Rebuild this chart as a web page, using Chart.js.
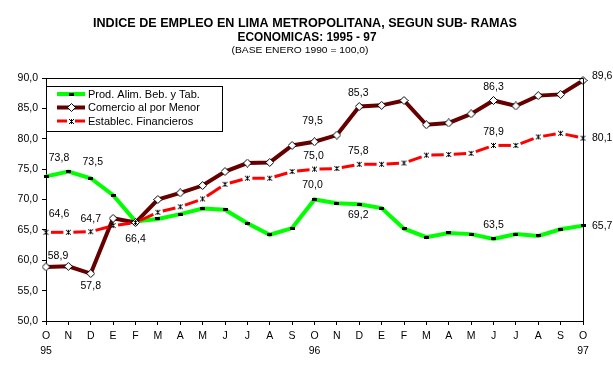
<!DOCTYPE html>
<html><head><meta charset="utf-8">
<script src="https://cdn.jsdelivr.net/npm/chart.js@4.4.0/dist/chart.umd.min.js"></script>
<style>html,body{margin:0;padding:0;background:#fff;}#wrap{width:613px;height:367px;position:relative;}</style>
</head><body><div id="wrap"><canvas id="c" width="613" height="367"></canvas></div>
<script>
const months = ['O','N','D','E','F','M','A','M','J','J','A','S','O','N','D','E','F','M','A','M','J','J','A','S','O'];
const years = ['95','','','','','','','','','','','','96','','','','','','','','','','','','97'];
const alimentos = [73.8,74.6,73.5,70.7,66.4,66.8,67.6,68.5,68.3,66.1,64.2,65.3,70.0,69.4,69.2,68.6,65.2,63.8,64.5,64.3,63.5,64.3,64.0,65.1,65.7];
const comercio = [58.9,59.0,57.8,66.9,66.2,70.0,71.1,72.3,74.6,76.0,76.1,78.9,79.5,80.6,85.3,85.5,86.3,82.3,82.6,84.1,86.3,85.4,87.1,87.3,89.6];
const financieros = [64.6,64.6,64.7,65.7,66.2,67.9,68.8,70.1,72.5,73.5,73.5,74.6,75.0,75.1,75.8,75.8,76.0,77.3,77.4,77.6,78.9,78.9,80.3,80.9,80.1];
const seriesNames = ['Prod. Alim. Beb. y Tab.','Comercio al por Menor','Establec. Financieros'];
const yTicks = [50,55,60,65,70,75,80,85,90];
const titleLines = ['INDICE DE EMPLEO EN LIMA METROPOLITANA, SEGUN SUB- RAMAS','ECONOMICAS: 1995 - 97'];
const subtitle = '(BASE ENERO 1990 = 100,0)';

// label placement (style): [index, dx, dy, align]
const labelSpecs = [
  [[0,13,-18,'center'],[2,2,-16,'center'],[4,0,18,'center'],[12,-2,-14,'center'],[14,-1,11,'center'],[20,0,-14,'center'],[24,9,0,'left']],
  [[0,12,-11,'center'],[2,0,12,'center'],[12,-2,-21,'center'],[14,-1,-13,'center'],[20,0,-13,'center'],[24,9,-4,'left']],
  [[0,13,-18,'center'],[2,0,-13,'center'],[12,-1,-13,'center'],[14,-1,-13,'center'],[20,0,-13,'center'],[24,9,0,'left']]
];

function mk(w,h,draw){const c=document.createElement('canvas');c.width=w;c.height=h;draw(c.getContext('2d'));return c;}
const mGreen = mk(5,3,g=>{g.fillStyle='#000';g.fillRect(0,0,5,3);});
const mDiamond = mk(9,9,g=>{g.beginPath();g.moveTo(4.5,0.5);g.lineTo(8.5,4.5);g.lineTo(4.5,8.5);g.lineTo(0.5,4.5);g.closePath();g.fillStyle='#fff';g.fill();g.strokeStyle='#000';g.lineWidth=1;g.stroke();});
const mStar = mk(7,7,g=>{g.fillStyle='#000';
  const px=[[1,1],[5,1],[3,1],[2,2],[3,2],[4,2],[3,3],[2,4],[3,4],[4,4],[1,5],[3,5],[5,5]];
  px.forEach(([x,y])=>g.fillRect(x,y,1,1));});

const fmt = v => v.toFixed(1).replace('.', ',');
const FONT = '"Liberation Sans", Arial, sans-serif';

function drawScaled(ctx, text, x, y, font, targetW){
  ctx.font = font;
  const w = ctx.measureText(text).width;
  const sx = targetW ? targetW / w : 1;
  ctx.save(); ctx.translate(x, y); ctx.scale(sx, 1);
  ctx.textAlign = 'center'; ctx.textBaseline = 'alphabetic'; ctx.fillStyle = '#000';
  ctx.fillText(text, 0, 0); ctx.restore();
}

const deco = {
  id: 'deco',
  afterDraw(chart){
    const ctx = chart.ctx, a = chart.chartArea;
    ctx.save();
    ctx.strokeStyle = '#000'; ctx.lineWidth = 1;
    ctx.beginPath();
    ctx.moveTo(Math.round(a.left)+0.5, Math.round(a.top)+0.5);
    ctx.lineTo(Math.round(a.right)+0.5, Math.round(a.top)+0.5);
    ctx.lineTo(Math.round(a.right)+0.5, Math.round(a.bottom)+0.5);
    ctx.stroke();
    drawScaled(ctx, titleLines[0], 305, 27, 'bold 13.5px '+FONT, 424);
    drawScaled(ctx, titleLines[1], 307, 41, 'bold 13.5px '+FONT, 139);
    drawScaled(ctx, subtitle, 300, 53, '9px '+FONT, 137);
    ctx.font = '10.5px ' + FONT; ctx.fillStyle = '#000'; ctx.textBaseline = 'middle';
    chart.data.datasets.forEach((ds, di) => {
      const meta = chart.getDatasetMeta(di);
      labelSpecs[di].forEach(([i, dx, dy, al]) => {
        const p = meta.data[i];
        ctx.textAlign = al;
        ctx.fillText(fmt(ds.data[i]), p.x + dx, p.y + dy);
      });
    });
    const L = {x: 46.5, y: 86.5, w: 176, h: 45};
    ctx.fillStyle = '#fff'; ctx.fillRect(L.x, L.y, L.w, L.h);
    ctx.strokeStyle = '#000'; ctx.lineWidth = 1; ctx.strokeRect(L.x, L.y, L.w, L.h);
    const rows = [94, 107.5, 121];
    chart.data.datasets.forEach((ds, di) => {
      const y = rows[di];
      ctx.save();
      ctx.strokeStyle = ds.borderColor; ctx.lineWidth = ds.borderWidth;
      ctx.beginPath();
      if (di === 2) { ctx.moveTo(57, y); ctx.lineTo(67, y); ctx.moveTo(75, y); ctx.lineTo(85, y); }
      else { ctx.moveTo(57, y); ctx.lineTo(85, y); }
      ctx.stroke();
      ctx.restore();
      const img = ds.pointStyle;
      ctx.drawImage(img, Math.round(71 - img.width/2), Math.round(y - img.height/2));
      ctx.fillStyle = '#000'; ctx.font = '11px ' + FONT; ctx.textAlign = 'left'; ctx.textBaseline = 'middle';
      ctx.fillText(ds.label, 88, y + 0.5);
    });
    ctx.restore();
  }
};

const segLen = c => Math.hypot(c.p1.x - c.p0.x, c.p1.y - c.p0.y);

new Chart(document.getElementById('c'), {
  type: 'line',
  data: {
    labels: months.map((m, i) => [m, years[i]]),
    datasets: [
      {label: seriesNames[0], data: alimentos, borderColor: '#00ff00', backgroundColor: '#00ff00', borderWidth: 4, pointStyle: mGreen, pointRadius: 3, tension: 0, clip: false, order: 3},
      {label: seriesNames[1], data: comercio, borderColor: '#660000', backgroundColor: '#660000', borderWidth: 4, pointStyle: mDiamond, pointRadius: 4, tension: 0, clip: false, order: 2},
      {label: seriesNames[2], data: financieros, borderColor: '#ff0000', backgroundColor: '#ff0000', borderWidth: 3, pointStyle: mStar, pointRadius: 4, tension: 0, clip: false, order: 1,
       segment: {borderDash: c => { const l = segLen(c); return [Math.max(l - 10, 1), 10]; }, borderDashOffset: -5}}
    ]
  },
  options: {
    responsive: false, animation: false, events: [],
    layout: {padding: {top: 78, right: 30, left: 0, bottom: 0}},
    plugins: {legend: {display: false}, title: {display: false}, tooltip: {enabled: false}},
    scales: {
      x: {
        offset: false,
        grid: {display: true, drawOnChartArea: false, drawTicks: true, tickLength: 4, color: '#000'},
        border: {display: true, color: '#000', width: 1},
        ticks: {color: '#000', font: {family: FONT, size: 10.5, lineHeight: 1.4}, padding: 4, maxRotation: 0, autoSkip: false},
        afterFit(s){ s.height = 46; }
      },
      y: {
        min: 50, max: 90,
        afterBuildTicks(s){ s.ticks = yTicks.map(v => ({value: v})); },
        grid: {display: true, drawOnChartArea: false, drawTicks: true, tickLength: 4, color: '#000'},
        border: {display: true, color: '#000', width: 1},
        ticks: {color: '#000', font: {family: FONT, size: 10.5}, padding: 4, callback: v => fmt(v)},
        afterFit(s){ s.width = 46; }
      }
    }
  },
  plugins: [deco]
});
</script></body></html>
